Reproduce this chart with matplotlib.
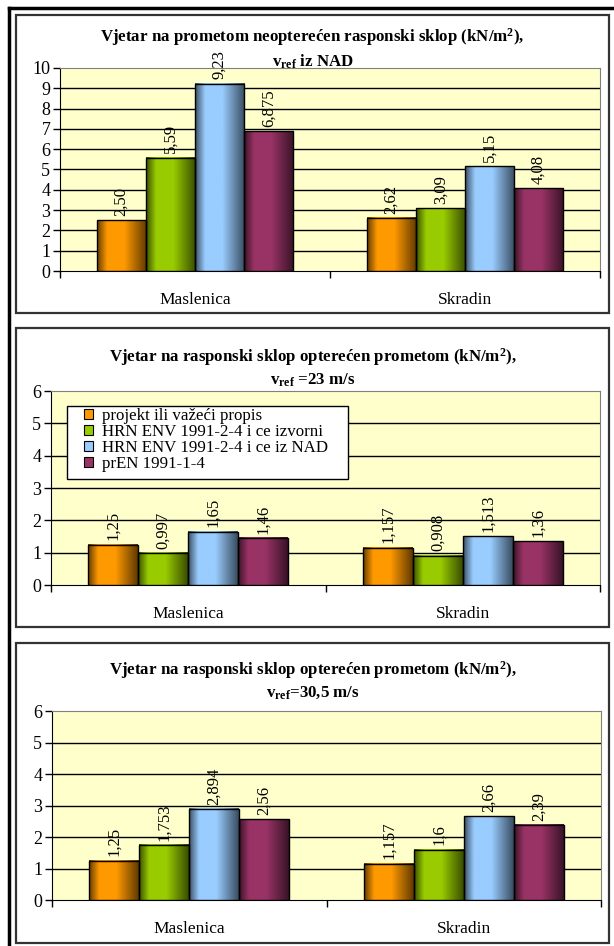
import numpy as np
import matplotlib
matplotlib.use("Agg")
import matplotlib.pyplot as plt
from matplotlib.colors import to_rgb
from matplotlib.patches import Patch, Rectangle
from matplotlib.lines import Line2D

plt.rcParams["font.family"] = ["Liberation Serif", "DejaVu Serif"]
plt.rcParams["mathtext.fontset"] = "custom"
plt.rcParams["mathtext.rm"] = "Liberation Serif"
plt.rcParams["mathtext.bf"] = "Liberation Serif:bold"
plt.rcParams["mathtext.it"] = "Liberation Serif:italic"

categories = ["Maslenica", "Skradin"]
series = [
    "projekt ili važeći propis",
    "HRN ENV 1991-2-4 i ce izvorni",
    "HRN ENV 1991-2-4 i ce iz NAD",
    "prEN 1991-1-4",
]
colors = ["#FF9900", "#99CC00", "#99CCFF", "#993366"]

# values as printed on the bars, (Maslenica, Skradin) for each series
unloaded_projekt = ["2.50", "2.62"]
unloaded_env = ["5.59", "3.09"]
unloaded_env_nad = ["9.23", "5.15"]
unloaded_pren = ["6.875", "4.08"]

loaded23_projekt = ["1.25", "1.157"]
loaded23_env = ["0.997", "0.908"]
loaded23_env_nad = ["1.65", "1.513"]
loaded23_pren = ["1.46", "1.36"]

loaded30_projekt = ["1.25", "1.157"]
loaded30_env = ["1.753", "1.6"]
loaded30_env_nad = ["2.894", "2.66"]
loaded30_pren = ["2.56", "2.39"]

W, H = 614, 946
fig = plt.figure(figsize=(W / 100, H / 100), dpi=100)


def px_axes(left, top, right, bottom):
    return fig.add_axes([left / W, 1 - bottom / H, (right - left) / W, (bottom - top) / H])


def shade(ax, patch, color):
    # horizontal light/dark gradient inside a bar
    x, y = patch.get_x(), patch.get_y()
    w, h = patch.get_width(), patch.get_height()
    t = np.linspace(0, 1, 64)
    k = np.interp(t, [0, 0.2, 0.55, 1], [0.4, 1.0, 1.0, 0.38])
    rgb = np.array(to_rgb(color))
    img = (k[:, None] * rgb[None, :])[None, :, :]
    ax.imshow(img, extent=(x, x + w, y, y + h), aspect="auto", zorder=3,
              interpolation="bilinear")


def draw_panel(ax, cols, ymax):
    ax.set_facecolor("#FFFFCC")
    x = np.arange(len(categories))
    width = 0.182
    for i, (vals, color) in enumerate(zip(cols, colors)):
        heights = [float(v) for v in vals]
        bars = ax.bar(x + (i - 1.5) * width, heights, width, color=color,
                      edgecolor="black", linewidth=1, zorder=4)
        for p, v in zip(bars, vals):
            shade(ax, p, color)
            p.set_facecolor("none")
            ax.annotate(v.replace(".", ","), (p.get_x() + p.get_width() / 2, p.get_height()),
                        xytext=(0, 3), textcoords="offset points", rotation=90,
                        ha="center", va="bottom", fontsize=12, annotation_clip=False)
    ax.set_xlim(-0.5, 1.5)
    ax.set_ylim(0, ymax)
    ax.set_yticks(range(0, ymax + 1))
    for yv in range(1, ymax):
        ax.axhline(yv, color="black", linewidth=1, zorder=1)
    ax.set_xticks(x)
    ax.set_xticklabels(categories)
    ax.set_xticks([-0.5, 0.5, 1.5], minor=True)
    ax.tick_params(axis="x", which="major", length=0, pad=15, labelsize=12.5)
    ax.tick_params(axis="x", which="minor", length=5, width=1, direction="out")
    ax.tick_params(axis="y", length=5, width=1, labelsize=13, pad=2)
    for side in ("top", "right"):
        ax.spines[side].set_color("#808080")
    for side in ("left", "bottom"):
        ax.spines[side].set_color("black")


def panel_frame(top, bottom):
    fig.add_artist(Rectangle((16 / W, 1 - bottom / H), (609 - 16) / W, (bottom - top) / H,
                             transform=fig.transFigure, fill=False,
                             edgecolor="#333333", linewidth=1.6))


def titles(y1, y2, sub):
    fig.text(312.5 / W, 1 - y1 / H, r"Vjetar na " + sub[0], ha="center", va="center",
             fontsize=12.2, fontweight="bold")
    fig.text(312.5 / W, 1 - y2 / H, sub[1], ha="center", va="center",
             fontsize=12.2, fontweight="bold")


# outer frame
fig.add_artist(Line2D([9 / W, 9 / W], [0, 1 - 8 / H], transform=fig.transFigure,
                      color="black", linewidth=2.5))
fig.add_artist(Line2D([9 / W, 1], [1 - 8 / H, 1 - 8 / H], transform=fig.transFigure,
                      color="black", linewidth=2.5))

# panel 1: unloaded deck
panel_frame(15, 313)
titles(37, 62, ["prometom neopterećen rasponski sklop (kN/m$^{\\mathbf{2}}$),",
                "v$_{\\mathbf{ref}}$ iz NAD"])
ax1 = px_axes(60, 68, 600, 271)
draw_panel(ax1, [unloaded_projekt, unloaded_env, unloaded_env_nad, unloaded_pren], 10)

# panel 2: loaded deck, v_ref = 23 m/s
panel_frame(328, 627)
titles(357, 380, ["rasponski sklop opterećen prometom (kN/m$^{\\mathbf{2}}$),",
                  "v$_{\\mathbf{ref}}$ =23 m/s"])
ax2 = px_axes(51, 391, 600, 585)
draw_panel(ax2, [loaded23_projekt, loaded23_env, loaded23_env_nad, loaded23_pren], 6)

# legend box with extra padding on the left
ax2.add_patch(Rectangle((67 / W, 1 - 479 / H), (348 - 67) / W, (479 - 406) / H,
                        transform=fig.transFigure, facecolor="white", edgecolor="black",
                        linewidth=1, zorder=5, clip_on=False))
handles = [Patch(facecolor=c, edgecolor="black", linewidth=0.8) for c in colors]
leg = ax2.legend(handles, series, loc="upper left",
                 bbox_to_anchor=(84 / W, 1 - 408 / H), bbox_transform=fig.transFigure,
                 borderaxespad=0, borderpad=0, frameon=False, fontsize=12.2,
                 handlelength=0.55, handleheight=0.55, handletextpad=0.5,
                 labelspacing=0.0)
leg.set_zorder(6)

# panel 3: loaded deck, v_ref = 30,5 m/s
panel_frame(643, 943)
titles(670, 693, ["rasponski sklop opterećen prometom (kN/m$^{\\mathbf{2}}$),",
                  "v$_{\\mathbf{ref}}$=30,5 m/s"])
ax3 = px_axes(52, 711, 601, 900)
draw_panel(ax3, [loaded30_projekt, loaded30_env, loaded30_env_nad, loaded30_pren], 6)

fig.savefig("out.png", dpi=100)
